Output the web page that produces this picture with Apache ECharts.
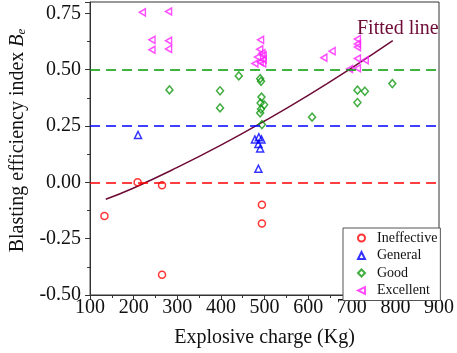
<!DOCTYPE html>
<html><head><meta charset="utf-8">
<script src="https://cdn.jsdelivr.net/npm/echarts@6/dist/echarts.min.js"></script>
<style>html,body{margin:0;padding:0;background:#fff}#c{width:457px;height:353px}</style>
</head><body><div id="c"></div>
<script>
var ineffective = [[133,-0.15],[209,0.00],[265,-0.013],[265,-0.41],[494,-0.10],[494,-0.183]];
var general = [[210,0.21],[478,0.19],[487,0.20],[493,0.19],[486,0.17],[490,0.15],[486,0.06]];
var good = [[282,0.41],[398,0.406],[398,0.33],[441,0.472],[490,0.46],[492,0.448],[493,0.378],[491,0.352],[499,0.344],[492,0.325],[490,0.308],[494,0.256],[609,0.289],[713,0.409],[730,0.404],[713,0.354],[793,0.438]];
var excellent = [[220,0.754],[280,0.758],[242,0.632],[242,0.588],[280,0.628],[280,0.592],[491,0.632],[489,0.59],[494,0.573],[497,0.564],[484,0.556],[497,0.545],[490,0.534],[478,0.527],[496,0.527],[636,0.553],[655,0.582],[695,0.503],[713,0.636],[713,0.614],[713,0.60],[713,0.549],[713,0.506],[731,0.542]];
var fitted = [[136,-0.075],[200,-0.025],[300,0.066],[400,0.165],[500,0.272],[600,0.386],[700,0.508],[794,0.629]];
var thresholds = [0, 0.25, 0.5];
var thresholdColors = ['#ff0000', '#0000ff', '#009900'];
var seriesNames = ['Ineffective', 'General', 'Good', 'Excellent'];
var xTicks = {min: 100, max: 900, interval: 100};
var yTicks = {min: -0.5, max: 0.8, interval: 0.25};

var font = 'Liberation Serif';
var chart = echarts.init(document.getElementById('c'), null, {renderer: 'canvas'});
function sc(name, data, symbol, color, size) {
  return {name: name, type: 'scatter', data: data, symbol: symbol, symbolSize: size,
    itemStyle: {color: 'rgba(255,255,255,0)', borderColor: color, borderWidth: 1.5}, z: 3};
}
chart.setOption({
  animation: false,
  textStyle: {fontFamily: font},
  grid: {left: 73, right: 17, top: 2, bottom: 51, show: true, borderColor: '#333', borderWidth: 1},
  xAxis: {type: 'value', min: xTicks.min, max: xTicks.max, interval: xTicks.interval,
    name: 'Explosive charge (Kg)', nameLocation: 'middle', nameGap: 33,
    nameTextStyle: {fontFamily: font, fontSize: 20, color: '#111'},
    axisLine: {onZero: false, lineStyle: {color: '#333'}},
    axisTick: {length: 5, lineStyle: {color: '#333'}},
    minorTick: {show: true, splitNumber: 2, length: 3, lineStyle: {color: '#333'}},
    splitLine: {show: false},
    axisLabel: {fontFamily: font, fontSize: 20, color: '#111', margin: 3}},
  yAxis: {type: 'value', min: yTicks.min, max: yTicks.max, interval: yTicks.interval,
    name: 'Blasting efficiency index {i|B}{s|e}', nameLocation: 'middle', nameGap: 59,
    nameTextStyle: {fontFamily: font, fontSize: 20, color: '#111', padding: [0, 0, 0, 16],
      rich: {i: {fontFamily: font, fontSize: 20, fontStyle: 'italic', color: '#111'},
             s: {fontFamily: font, fontSize: 13, fontStyle: 'italic', color: '#111', verticalAlign: 'bottom', padding: [8,0,0,0]}}},
    axisLine: {show: true, onZero: false, lineStyle: {color: '#333'}},
    axisTick: {show: true, length: 5, lineStyle: {color: '#333'}},
    minorTick: {show: true, splitNumber: 2, length: 3, lineStyle: {color: '#333'}},
    splitLine: {show: false},
    axisLabel: {fontFamily: font, fontSize: 20, color: '#111', margin: 9,
      formatter: function (v) { return Math.abs(v / 0.25 - Math.round(v / 0.25)) < 1e-6 ? v.toFixed(2) : ''; }}},
  legend: {orient: 'vertical', left: 343, top: 228, data: seriesNames,
    padding: [3, 3, 3, 14], itemGap: 3.5, itemWidth: 7, itemHeight: 7,
    borderColor: '#555', borderWidth: 1, backgroundColor: '#fff',
    textStyle: {fontFamily: font, fontSize: 14, color: '#111', padding: [0, 0, 0, 7]}},
  graphic: [{type: 'text', left: 357, top: 19, z: 10,
    style: {text: 'Fitted line', fontFamily: font, fontSize: 20, fill: '#6e0b36'}}],
  series: [
    {type: 'line', name: 'fit', data: fitted, smooth: true, symbol: 'none',
      lineStyle: {color: '#6e0b36', width: 1.5}, z: 2,
      markLine: {silent: true, symbol: 'none', label: {show: false},
        data: thresholds.map(function (t, i) {
          return {yAxis: t, lineStyle: {color: thresholdColors[i], type: [10, 6], width: 1.5}};
        })}},
    sc(seriesNames[0], ineffective, 'circle', '#ff0000', 7),
    sc(seriesNames[1], general, 'triangle', '#0000ff', 7),
    sc(seriesNames[2], good, 'diamond', '#119911', [7, 8]),
    sc(seriesNames[3], excellent, 'path://M10,0 L10,10 L0,5 Z', '#ff22ff', [6, 7])
  ]
});
</script></body></html>
